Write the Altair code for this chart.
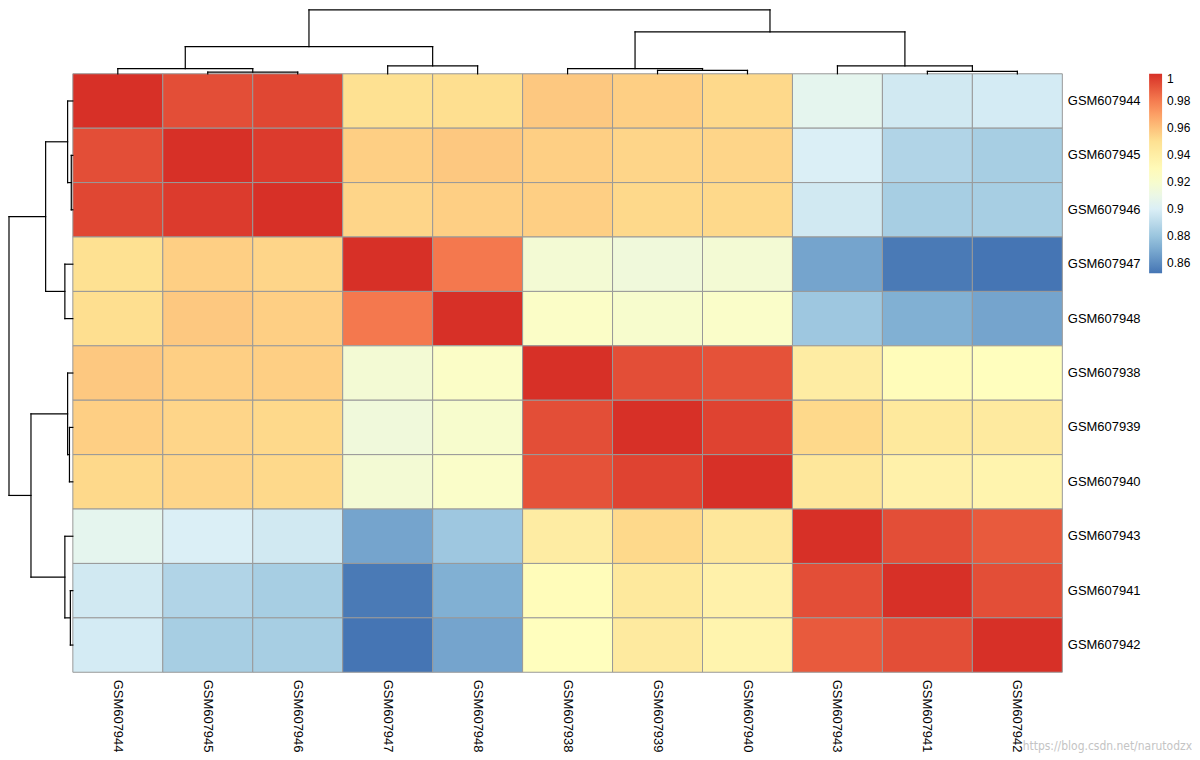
import altair as alt
import pandas as pd

# Display order of samples (rows top->bottom, columns left->right)
samples = ["GSM607944", "GSM607945", "GSM607946", "GSM607947", "GSM607948",
           "GSM607938", "GSM607939", "GSM607940", "GSM607943", "GSM607941", "GSM607942"]

# Correlation matrix rows (same order as samples)
r_944 = [1.000, 0.992, 0.994, 0.950, 0.951, 0.958, 0.956, 0.953, 0.906, 0.897, 0.898]
r_945 = [0.992, 1.000, 0.997, 0.956, 0.958, 0.956, 0.954, 0.954, 0.900, 0.887, 0.884]
r_946 = [0.994, 0.997, 1.000, 0.954, 0.956, 0.956, 0.953, 0.953, 0.897, 0.884, 0.884]
r_947 = [0.950, 0.956, 0.954, 1.000, 0.981, 0.917, 0.914, 0.917, 0.868, 0.854, 0.8525]
r_948 = [0.951, 0.958, 0.956, 0.981, 1.000, 0.923, 0.920, 0.922, 0.881, 0.872, 0.868]
r_938 = [0.958, 0.956, 0.956, 0.917, 0.923, 1.000, 0.992, 0.991, 0.941, 0.929, 0.927]
r_939 = [0.956, 0.954, 0.953, 0.914, 0.920, 0.992, 1.000, 0.995, 0.953, 0.944, 0.943]
r_940 = [0.953, 0.954, 0.953, 0.917, 0.922, 0.991, 0.995, 1.000, 0.945, 0.937, 0.935]
r_943 = [0.906, 0.900, 0.897, 0.868, 0.881, 0.941, 0.953, 0.945, 1.000, 0.992, 0.989]
r_941 = [0.897, 0.887, 0.884, 0.854, 0.872, 0.929, 0.944, 0.937, 0.992, 1.000, 0.992]
r_942 = [0.898, 0.884, 0.884, 0.8525, 0.868, 0.927, 0.943, 0.935, 0.989, 0.992, 1.000]
corr_rows = [r_944, r_945, r_946, r_947, r_948, r_938, r_939, r_940, r_943, r_941, r_942]

# Clustering tree (hclust style; negative = leaf at display position k, positive = earlier merge)
merge_a = [-2, -7, -10, -1, -6, -4, -9, 4, 5, 8]
merge_b = [-3, -8, -11, 1, 2, -5, 3, 6, 7, 9]
merge_h = [0.017, 0.037, 0.027, 0.057, 0.057, 0.087, 0.087, 0.297, 0.457, 0.697]

palette = ["#4575B4", "#91BFDB", "#E0F3F8", "#FFFFBF", "#FEE090", "#FC8D59", "#D73027"]
legend_ticks = [0.86, 0.88, 0.9, 0.92, 0.94, 0.96, 0.98, 1]
watermark = "https://blog.csdn.net/narutodzx"

# ---- tables ----
heat_df = pd.DataFrame([
    {"row": samples[i], "col": samples[j], "r": corr_rows[i][j]}
    for i in range(len(samples)) for j in range(len(samples))
])
vmin, vmax = heat_df["r"].min(), heat_df["r"].max()
stops = [vmin + k * (vmax - vmin) / (len(palette) - 1) for k in range(len(palette))]

pos = {}
def node(k):
    if k < 0:
        return (-k - 1, 0.0)
    return (pos[k], merge_h[k - 1])

segs = []
for m, (a, b, h) in enumerate(zip(merge_a, merge_b, merge_h), start=1):
    pa, ha = node(a)
    pb, hb = node(b)
    pos[m] = (pa + pb) / 2
    segs.append({"p1": pa, "p2": pa, "h1": ha, "h2": h})
    segs.append({"p1": pb, "p2": pb, "h1": hb, "h2": h})
    segs.append({"p1": pa, "p2": pb, "h1": h, "h2": h})
seg_df = pd.DataFrame(segs)
hmax = max(merge_h)

W, H, D = 992, 600, 65
n = len(samples)

heat = alt.Chart(heat_df).mark_rect(stroke="#999999", strokeWidth=1).encode(
    x=alt.X("col:N",
            scale=alt.Scale(domain=samples, range=[D, D + W], paddingInner=0, paddingOuter=0),
            axis=alt.Axis(title=None, orient="bottom", labelAngle=90, domain=False, ticks=False,
                          labelPadding=7, labelFontSize=13, labelColor="black")),
    y=alt.Y("row:N",
            scale=alt.Scale(domain=samples, range=[D, D + H], paddingInner=0, paddingOuter=0),
            axis=alt.Axis(title=None, orient="right", domain=False, ticks=False,
                          labelPadding=5, labelFontSize=13, labelColor="black")),
    color=alt.Color("r:Q",
                    scale=alt.Scale(domain=stops, range=palette, interpolate="rgb"),
                    legend=alt.Legend(title=None, orient="none", legendX=1144, legendY=65,
                                      direction="vertical", gradientLength=200,
                                      gradientThickness=13, gradientStrokeWidth=0,
                                      values=legend_ticks, format="~g", labelFontSize=12,
                                      labelOffset=5, labelColor="black", padding=0,
                                      labelOverlap=False)),
)

top = alt.Chart(seg_df).mark_rule(color="black", strokeWidth=1.2, strokeCap="square").encode(
    x=alt.X("p1:Q", scale=alt.Scale(domain=[-0.5, n - 0.5], range=[D, D + W], nice=False, zero=False), axis=None),
    x2="p2:Q",
    y=alt.Y("h1:Q", scale=alt.Scale(domain=[0, hmax], range=[D, 1], nice=False, zero=False), axis=None),
    y2="h2:Q",
)

left = alt.Chart(seg_df).mark_rule(color="black", strokeWidth=1.2, strokeCap="square").encode(
    y=alt.Y("p1:Q", scale=alt.Scale(domain=[-0.5, n - 0.5], range=[D, D + H], nice=False, zero=False), axis=None),
    y2="p2:Q",
    x=alt.X("h1:Q", scale=alt.Scale(domain=[0, hmax], range=[D, 1], nice=False, zero=False), axis=None),
    x2="h2:Q",
)

wm = alt.Chart(pd.DataFrame({"t": [watermark]})).mark_text(
    align="right", baseline="alphabetic", fontSize=12,
    font="Liberation Sans Narrow, DejaVu Sans Condensed, Liberation Sans", color="#c4c4c4"
).encode(text="t:N", x=alt.value(1187), y=alt.value(743))

chart = alt.layer(heat, top, left, wm).resolve_scale(
    x="independent", y="independent"
).properties(width=D + W, height=D + H, padding=0).configure(
    font="Liberation Sans", background="white"
).configure_view(strokeWidth=0)

chart.save("out.html", embed_options={"renderer": "svg", "actions": False})
